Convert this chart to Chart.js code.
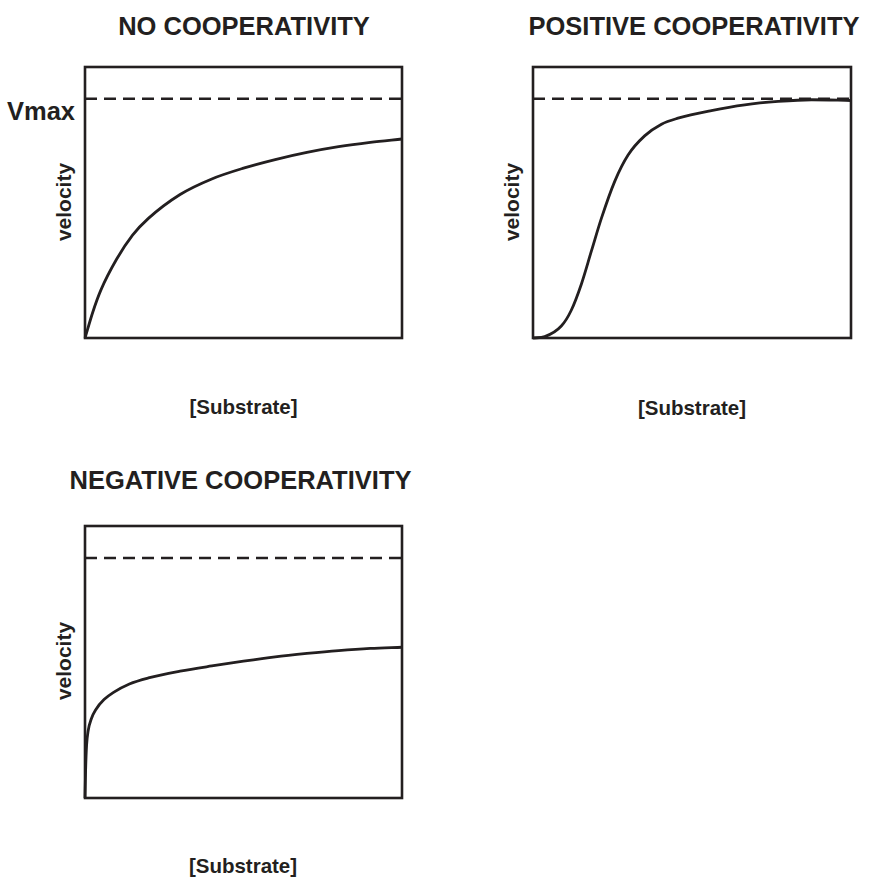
<!DOCTYPE html>
<html lang="en">
<head>
    <meta charset="UTF-8">
    <title>Enzyme Cooperativity</title>
    <script src="https://cdn.jsdelivr.net/npm/chart.js"></script>
<style>
    body {
        margin: 0;
        background-color: #ffffff;
        font-family: 'Liberation Sans', Arial, Helvetica, sans-serif;
        color: #231f20;
    }
    #page {
        position: relative;
        width: 871px;
        height: 880px;
    }
    .panel {
        position: absolute;
    }
    .label {
        position: absolute;
        font-weight: bold;
        white-space: nowrap;
        transform: translate(-50%, -50%);
        line-height: 1;
    }
    .title { font-size: 25.5px; }
    .xlab { font-size: 20.5px; }
    .ylab { font-size: 21px; transform: translate(-50%, -50%) rotate(-90deg); }
    .vmax { font-size: 25.5px; transform: translate(-100%, -50%); }
</style>
</head>
<body>
<div id="page">
    <div class="label title" style="left:244px; top:27px;">NO COOPERATIVITY</div>
    <div class="label title" style="left:694px; top:27px;">POSITIVE COOPERATIVITY</div>
    <div class="label title" style="left:240.5px; top:481px;">NEGATIVE COOPERATIVITY</div>

    <div class="label vmax" style="left:75px; top:112px;">Vmax</div>

    <div class="label ylab" style="left:63px; top:202px;">velocity</div>
    <div class="label ylab" style="left:511px; top:202px;">velocity</div>
    <div class="label ylab" style="left:63px; top:661px;">velocity</div>

    <div class="label xlab" style="left:243.5px; top:407px;">[Substrate]</div>
    <div class="label xlab" style="left:692px; top:408px;">[Substrate]</div>
    <div class="label xlab" style="left:243px; top:866px;">[Substrate]</div>

    <canvas class="panel" id="noCoop" width="327" height="281" style="left:80px; top:62px;"></canvas>
    <canvas class="panel" id="posCoop" width="328" height="281" style="left:528px; top:62px;"></canvas>
    <canvas class="panel" id="negCoop" width="327" height="282" style="left:80px; top:521px;"></canvas>
</div>

<script>
    // substrate concentration (arbitrary units) and velocity as fraction of Vmax
    const vmax = 1;
    const yTop = 1.133;
    const xRange = [0, 10];

    const noCoopS = [0, 0.25, 0.5, 1, 1.5, 2, 3, 4, 5, 6, 7, 8, 9, 10];
    const noCoopV = [0, 0.11, 0.20, 0.33, 0.43, 0.50, 0.60, 0.665, 0.71, 0.746, 0.776, 0.80, 0.818, 0.832];

    const posCoopS = [0, 0.37, 0.89, 1.2, 1.52, 1.84, 2.15, 2.57, 2.99, 3.51, 4.04, 4.56, 5.61, 6.66, 7.71, 8.76, 10];
    const posCoopV = [0, 0.006, 0.05, 0.115, 0.225, 0.365, 0.50, 0.655, 0.765, 0.845, 0.894, 0.919, 0.951, 0.975, 0.989, 0.996, 0.993];

    const negCoopS = [0, 0.02, 0.05, 0.1, 0.2, 0.35, 0.6, 0.9, 1.4, 2, 3, 4, 5, 6, 7, 8, 9, 10];
    const negCoopV = [0, 0.12, 0.22, 0.28, 0.33, 0.37, 0.41, 0.44, 0.475, 0.50, 0.528, 0.55, 0.57, 0.588, 0.602, 0.614, 0.623, 0.628];

    const ink = '#231f20';

    // draws the frame around the plot area
    const frame = {
        id: 'frame',
        afterDatasetsDraw(chart) {
            const a = chart.chartArea;
            const ctx = chart.ctx;
            ctx.save();
            ctx.strokeStyle = ink;
            ctx.lineWidth = 2.6;
            ctx.strokeRect(a.left, a.top, a.right - a.left, a.bottom - a.top);
            ctx.restore();
        }
    };

    function pts(xs, ys) {
        return xs.map((x, i) => ({ x: x, y: ys[i] }));
    }

    function makePanel(id, xs, ys) {
        const ctx = document.getElementById(id).getContext('2d');
        new Chart(ctx, {
            type: 'line',
            data: {
                datasets: [{
                    data: pts(xs, ys),
                    borderColor: ink,
                    borderWidth: 2.8,
                    pointRadius: 0,
                    cubicInterpolationMode: 'monotone',
                    clip: false
                }, {
                    data: pts(xRange, [vmax, vmax]),
                    borderColor: ink,
                    borderWidth: 2.4,
                    borderDash: [12, 7],
                    pointRadius: 0,
                    clip: false
                }]
            },
            options: {
                responsive: false,
                animation: false,
                devicePixelRatio: 1,
                layout: { padding: 5 },
                plugins: {
                    legend: { display: false },
                    tooltip: { enabled: false }
                },
                scales: {
                    x: { type: 'linear', min: xRange[0], max: xRange[1], display: false },
                    y: { min: 0, max: yTop, display: false }
                }
            },
            plugins: [frame]
        });
    }

    makePanel('noCoop', noCoopS, noCoopV);
    makePanel('posCoop', posCoopS, posCoopV);
    makePanel('negCoop', negCoopS, negCoopV);
</script>
</body>
</html>
